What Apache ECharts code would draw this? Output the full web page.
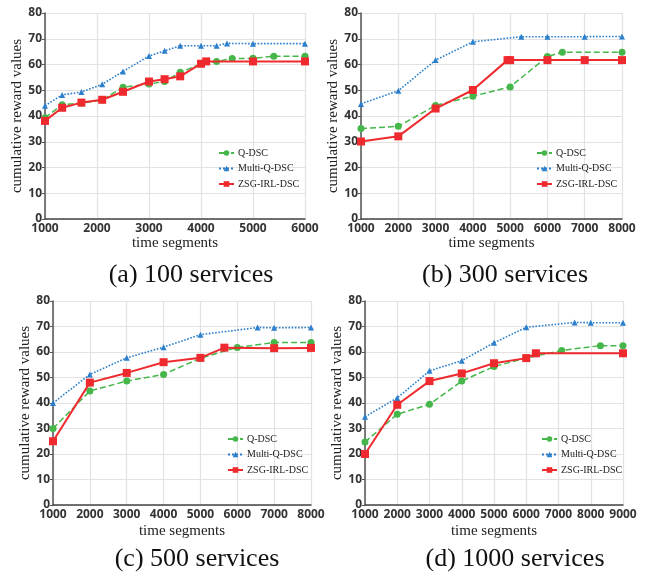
<!DOCTYPE html>
<html><head><meta charset="utf-8">
<script src="https://cdn.jsdelivr.net/npm/echarts@6/dist/echarts.min.js"></script>
<style>html,body{margin:0;padding:0;background:#fff}#c{width:651px;height:574px}</style>
</head><body><div id="c"></div>
<script>
// ---- Data ----
const seriesNames = ['Q-DSC','Multi-Q-DSC','ZSG-IRL-DSC'];
const captions = ['(a) 100 services','(b) 300 services','(c) 500 services','(d) 1000 services'];
const xMaxes = [6000, 8000, 8000, 9000];

// (a) 100 services
const a_q_x = [1000,1330,1700,2100,2500,3000,3300,3600,4000,4300,4600,5000,5400,6000];
const a_q_y = [39.3,44.4,45.0,46.2,51.2,52.4,53.4,57.0,60.2,61.2,62.3,62.4,63.2,63.2];
const a_m_x = [1000,1330,1700,2100,2500,3000,3300,3600,4000,4300,4500,5000,6000];
const a_m_y = [44.0,48.2,49.3,52.3,57.3,63.3,65.3,67.3,67.3,67.3,68.2,68.1,68.1];
const a_z_x = [1000,1330,1700,2100,2500,3000,3300,3600,4000,4100,5000,6000];
const a_z_y = [38.1,43.2,45.2,46.3,49.4,53.4,54.3,55.4,60.3,61.2,61.2,61.2];

// (b) 300 services
const b_q_x = [1000,2000,3000,4000,5000,6000,6400,8000];
const b_q_y = [35.1,36.0,44.1,47.7,51.3,63.1,64.8,64.8];
const b_m_x = [1000,2000,3000,4000,5300,6000,7000,8000];
const b_m_y = [44.7,49.8,61.7,68.8,70.8,70.8,70.8,70.9];
const b_z_x = [1000,2000,3000,4000,4930,5000,6000,7000,8000];
const b_z_y = [30.1,32.1,42.9,50.1,61.7,61.7,61.7,61.7,61.7];

// (c) 500 services
const c_q_x = [1000,2000,3000,4000,5000,6000,7000,8000];
const c_q_y = [30.0,44.7,48.6,51.2,57.6,61.8,63.7,63.7];
const c_m_x = [1000,2000,3000,4000,5000,6550,7000,8000];
const c_m_y = [40.0,51.2,57.7,61.9,66.8,69.6,69.5,69.6];
const c_z_x = [1000,2000,3000,4000,5000,5650,7000,8000];
const c_z_y = [25.0,48.0,51.8,56.0,57.7,61.7,61.5,61.6];

// (d) 1000 services
const d_q_x = [1000,2000,3000,4000,5000,6000,7100,8300,9000];
const d_q_y = [24.7,35.6,39.5,48.6,54.3,57.6,60.6,62.5,62.5];
const d_m_x = [1000,2000,3000,4000,5000,6000,7500,8000,9000];
const d_m_y = [34.6,42.0,52.6,56.6,63.6,69.7,71.6,71.5,71.5];
const d_z_x = [1000,2000,3000,4000,5000,6000,6300,9000];
const d_z_y = [20.0,39.3,48.6,51.6,55.6,57.6,59.5,59.5];

const panels = [
  [[a_q_x,a_q_y],[a_m_x,a_m_y],[a_z_x,a_z_y]],
  [[b_q_x,b_q_y],[b_m_x,b_m_y],[b_z_x,b_z_y]],
  [[c_q_x,c_q_y],[c_m_x,c_m_y],[c_z_x,c_z_y]],
  [[d_q_x,d_q_y],[d_m_x,d_m_y],[d_z_x,d_z_y]]
];

// ---- Layout / style ----
const grids = [
  {left:45, top:13, width:260, height:206},
  {left:361, top:13, width:261, height:206},
  {left:53, top:301, width:258, height:204},
  {left:365, top:301, width:258, height:204}
];
const yNameGaps = [17, 17.5, 19, 19.5];
const xNameGaps = [17, 17, 19, 19];
const legendPos = [
  {left:218, top:148},
  {left:536, top:148},
  {left:227, top:434},
  {left:541, top:434}
];
const captionPos = [{x:186,y:257},{x:500,y:257},{x:192,y:541},{x:510,y:541}];

const colors = ['#45b649','#2b7fcb','#ef2a2e'];
const symbols = ['circle','triangle','rect'];
const symSizes = [7,6,8];
const lineTypes = ['dashed','dotted','solid'];
const lineWidths = [1.5,1.6,2];

const serif = '"Liberation Serif","Times New Roman",serif';
const sans = '"Open Sans","DejaVu Sans",sans-serif';

const option = {
  animation:false,
  backgroundColor:'#fff',
  grid: grids.map(g=>Object.assign({containLabel:false}, g)),
  title: captions.map((t,i)=>({
    text:t, left:captionPos[i].x, top:captionPos[i].y, textAlign:'center',
    textStyle:{fontFamily:serif, fontWeight:'normal', fontSize:26, color:'#111'}
  })),
  legend: legendPos.map((p,i)=>({
    data:seriesNames, orient:'vertical', left:p.left, top:p.top,
    itemWidth:15, itemHeight:7, itemGap:5.5,
    textStyle:{fontFamily:serif, fontSize:10, color:'#222', padding:[0,0,0,-1]},
    padding:0
  })),
  xAxis: grids.map((g,i)=>({
    type:'value', gridIndex:i, min:1000, max:xMaxes[i], interval:1000,
    name:'time segments', nameLocation:'middle', nameGap:xNameGaps[i],
    nameTextStyle:{fontFamily:serif, fontSize:15, color:'#222'},
    axisLine:{show:true, onZero:false, lineStyle:{color:'#444', width:1.5}},
    axisTick:{show:false},
    axisLabel:{fontFamily:sans, fontWeight:'bold', fontSize:12, color:'#333', margin:4,
      formatter:(v)=>String(v)},
    splitLine:{show:true, lineStyle:{color:'#e2e2e2', width:1.2}}
  })),
  yAxis: grids.map((g,i)=>({
    type:'value', gridIndex:i, min:0, max:80, interval:10,
    name:'cumulative reward values', nameLocation:'middle', nameGap:yNameGaps[i],
    nameTextStyle:{fontFamily:serif, fontSize:15, color:'#222'},
    axisLine:{show:true, lineStyle:{color:'#555', width:1.5}},
    axisTick:{show:true, length:3, lineStyle:{color:'#555'}},
    axisLabel:{fontFamily:sans, fontWeight:'bold', fontSize:12, color:'#333', margin:3},
    splitLine:{show:true, lineStyle:{color:'#e2e2e2', width:1.2}}
  })),
  series: []
};

panels.forEach((pnl,pi)=>{
  pnl.forEach((s,si)=>{
    option.series.push({
      type:'line', name:seriesNames[si], xAxisIndex:pi, yAxisIndex:pi,
      data:s[0].map((x,k)=>[x,s[1][k]]),
      symbol:symbols[si], symbolSize:symSizes[si], showSymbol:true,
      itemStyle:{color:colors[si]},
      lineStyle:{color:colors[si], type:lineTypes[si], width:lineWidths[si]},
      z: si===2?3:2
    });
  });
});

const chart = echarts.init(document.getElementById('c'), null, {renderer:'canvas'});
chart.setOption(option);
</script>
</body></html>
